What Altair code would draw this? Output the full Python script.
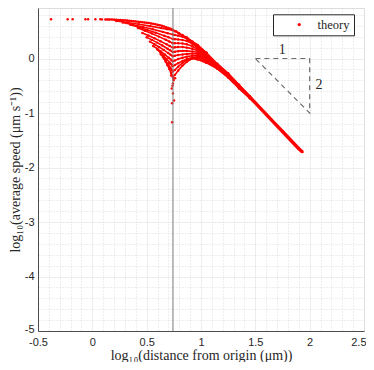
import altair as alt
import pandas as pd

RED = "#ff0000"
DARK = "#262626"

# ---------------- data ----------------
PLAT_X = [-0.38, -0.227, -0.181, -0.064, -0.039, 0.028, 0.073, 0.089, 0.12, 0.135, 0.148]
PLAT_Y = [0.72, 0.72, 0.72, 0.72, 0.72, 0.719, 0.719, 0.718, 0.717, 0.717, 0.716]

ENV_X = [0.16, 0.18, 0.20, 0.22, 0.24, 0.26, 0.28, 0.30, 0.32, 0.34,
         0.36, 0.38, 0.40, 0.42, 0.44, 0.46, 0.48, 0.50, 0.52, 0.54,
         0.56, 0.58, 0.60, 0.62, 0.64, 0.66, 0.68, 0.70, 0.72, 0.74,
         0.77, 0.80, 0.83, 0.86, 0.89, 0.92, 0.95, 0.98, 1.01, 1.05]
ENV_Y = [0.716, 0.715, 0.713, 0.711, 0.709, 0.706, 0.703, 0.70, 0.696, 0.692,
         0.688, 0.684, 0.68, 0.676, 0.672, 0.667, 0.662, 0.657, 0.651, 0.644,
         0.637, 0.629, 0.62, 0.61, 0.60, 0.588, 0.575, 0.56, 0.545, 0.53,
         0.50, 0.46, 0.42, 0.375, 0.335, 0.295, 0.255, 0.21, 0.16, 0.105]

LEFT_X = [
    [0.22, 0.324, 0.428, 0.532, 0.636, 0.688, 0.74],
    [0.28, 0.372, 0.464, 0.556, 0.648, 0.694, 0.74],
    [0.35, 0.428, 0.506, 0.584, 0.662, 0.701, 0.74],
    [0.42, 0.484, 0.548, 0.612, 0.676, 0.708, 0.74],
    [0.46, 0.516, 0.572, 0.628, 0.684, 0.712, 0.74],
    [0.50, 0.548, 0.596, 0.644, 0.692, 0.716, 0.74],
    [0.53, 0.572, 0.614, 0.656, 0.698, 0.719, 0.74],
    [0.56, 0.596, 0.632, 0.668, 0.704, 0.722, 0.74],
    [0.60, 0.628, 0.656, 0.684, 0.712, 0.726, 0.74],
    [0.63, 0.652, 0.674, 0.696, 0.718, 0.729, 0.74],
    [0.66, 0.676, 0.692, 0.708, 0.724, 0.732, 0.74],
]
LEFT_Y = [
    [0.69, 0.66, 0.628, 0.594, 0.558, 0.539, 0.52],
    [0.66, 0.621, 0.58, 0.536, 0.489, 0.465, 0.44],
    [0.62, 0.574, 0.525, 0.473, 0.418, 0.389, 0.36],
    [0.56, 0.511, 0.458, 0.402, 0.343, 0.312, 0.28],
    [0.47, 0.422, 0.372, 0.318, 0.26, 0.23, 0.20],
    [0.39, 0.342, 0.292, 0.238, 0.18, 0.15, 0.12],
    [0.31, 0.262, 0.212, 0.158, 0.10, 0.07, 0.04],
    [0.23, 0.181, 0.128, 0.072, 0.013, -0.018, -0.05],
    [0.16, 0.107, 0.051, -0.009, -0.073, -0.106, -0.14],
    [0.08, 0.024, -0.036, -0.10, -0.168, -0.204, -0.24],
    [0.0, -0.06, -0.124, -0.192, -0.264, -0.302, -0.34],
]
RIGHT_X = [0.76, 0.79, 0.83, 0.87, 0.92, 0.97]
RIGHT_Y = [
    [0.50, 0.47, 0.43, 0.385, 0.315, 0.25],
    [0.43, 0.42, 0.40, 0.37, 0.30, 0.223],
    [0.355, 0.35, 0.34, 0.32, 0.27, 0.196],
    [0.28, 0.28, 0.275, 0.26, 0.225, 0.169],
    [0.205, 0.21, 0.21, 0.20, 0.18, 0.142],
    [0.125, 0.135, 0.14, 0.14, 0.13, 0.115],
    [0.05, 0.065, 0.075, 0.085, 0.09, 0.088],
    [-0.035, -0.01, 0.015, 0.035, 0.05, 0.061],
    [-0.12, -0.085, -0.045, -0.01, 0.02, 0.034],
    [-0.21, -0.15, -0.08, -0.03, 0.005, 0.007],
    [-0.30, -0.22, -0.13, -0.06, 0.0, -0.02],
]
BAND_X = [1.05, 1.15, 1.25, 1.35, 1.45]
BAND_Y = [
    [0.105, -0.095, -0.27, -0.48, -0.69],
    [0.087, -0.105, -0.278, -0.487, -0.694],
    [0.068, -0.114, -0.286, -0.494, -0.698],
    [0.05, -0.124, -0.294, -0.501, -0.702],
    [0.031, -0.133, -0.302, -0.508, -0.706],
    [0.013, -0.143, -0.31, -0.515, -0.71],
    [-0.006, -0.152, -0.318, -0.522, -0.714],
    [-0.025, -0.162, -0.326, -0.529, -0.718],
    [-0.043, -0.171, -0.334, -0.536, -0.722],
    [-0.062, -0.181, -0.342, -0.543, -0.726],
    [-0.08, -0.19, -0.35, -0.55, -0.73],
]
TAIL_X = [1.45, 1.5, 1.55, 1.6, 1.65, 1.7, 1.75, 1.8, 1.85, 1.9, 1.934]
TAIL_Y = [-0.71, -0.815, -0.92, -1.025, -1.13, -1.235, -1.34, -1.445, -1.55, -1.655, -1.716]

SPARSE_X = [0.706, 0.725, 0.746, 0.742, 0.731, 0.742, 0.752, 0.734, 0.734, 0.748, 0.762, 0.738]
SPARSE_Y = [-0.09, -0.31, -0.37, -0.46, -0.55, -0.64, -0.77, -0.82, -1.17, -0.40, -0.36, -0.50]

VLINE_X = [0.742]
TRI_X = [1.5, 2.0, 2.0, 1.5]
TRI_Y = [0.0, 0.0, -1.0, 0.0]
TRI_LABELS = ["1", "2"]
TRI_LABEL_X = [1.747, 2.085]
TRI_LABEL_Y = [0.156, -0.49]

X_MAJOR = [-0.5, 0, 0.5, 1, 1.5, 2, 2.5]
X_MINOR = [-0.4, -0.3, -0.2, -0.1, 0.1, 0.2, 0.3, 0.4, 0.6, 0.7, 0.8, 0.9,
           1.1, 1.2, 1.3, 1.4, 1.6, 1.7, 1.8, 1.9, 2.1, 2.2, 2.3, 2.4]
Y_MAJOR = [-5, -4, -3, -2, -1, 0]
Y_MINOR = [-4.8, -4.6, -4.4, -4.2, -3.8, -3.6, -3.4, -3.2, -2.8, -2.6, -2.4, -2.2,
           -1.8, -1.6, -1.4, -1.2, -0.8, -0.6, -0.4, -0.2, 0.2, 0.4, 0.6, 0.8]

# ---------------- tables ----------------
line_rows = []
for i, (x, y) in enumerate(zip(ENV_X, ENV_Y)):
    line_rows.append({"x": x, "y": y, "ray": "env", "idx": i})
for r in range(len(LEFT_X)):
    xs = LEFT_X[r] + RIGHT_X + BAND_X
    ys = LEFT_Y[r] + RIGHT_Y[r] + BAND_Y[r]
    for i, (x, y) in enumerate(zip(xs, ys)):
        line_rows.append({"x": x, "y": y, "ray": f"r{r}", "idx": i})
lines_df = pd.DataFrame(line_rows)
tail_df = pd.DataFrame({"x": TAIL_X, "y": TAIL_Y, "idx": list(range(len(TAIL_X)))})

pts = [(r["x"], r["y"]) for r in line_rows]
pts += list(zip(PLAT_X, PLAT_Y)) + list(zip(SPARSE_X, SPARSE_Y)) + list(zip(TAIL_X, TAIL_Y))
pts_df = pd.DataFrame({"x": [p[0] for p in pts], "y": [p[1] for p in pts], "series": "theory"})

vline_df = pd.DataFrame({"x": VLINE_X})
tri_df = pd.DataFrame({"x": TRI_X, "y": TRI_Y, "o": list(range(len(TRI_X)))})
lab_df = pd.DataFrame({"x": TRI_LABEL_X, "y": TRI_LABEL_Y, "t": TRI_LABELS})

# ---------------- scales & axes ----------------
xsc = alt.Scale(domain=[-0.5, 2.5], nice=False, zero=False)
ysc = alt.Scale(domain=[-5, 0.927], nice=False, zero=False)

MAJX = "abs(datum.value*2 - round(datum.value*2)) < 0.000001"
MAJY = "abs(datum.value - round(datum.value)) < 0.000001"
SERIF = "Liberation Serif"


def axis(values, major_test, title, **kw):
    return alt.Axis(
        values=values,
        title=title,
        grid=True,
        gridColor={"condition": {"test": major_test, "value": "#e3e3e3"}, "value": "#cfcfcf"},
        gridDash={"condition": {"test": major_test, "value": [1, 0]}, "value": [1, 2]},
        gridWidth=0.7,
        labelExpr=f"{major_test} ? '' + datum.value : ''",
        labelOverlap=False,
        labelFlush=False,
        labelFont="Liberation Sans",
        labelFontSize=11,
        labelColor=DARK,
        ticks=False,
        tickSize=0,
        domainColor=DARK,
        domainWidth=0.8,
        titleFont=SERIF,
        titleFontSize=14,
        titleFontWeight="normal",
        titleColor=DARK,
        **kw,
    )


x_axis = axis(
    X_MAJOR + X_MINOR, MAJX, "log₁₀(distance from origin (μm))",
    labelPadding=5, titlePadding=1,
    labelAlign={"condition": {"test": "datum.value > 2.45", "value": "right"}, "value": "center"},
    labelOffset={"condition": {"test": "datum.value > 2.45", "value": 2}, "value": 0},
)
y_axis = axis(
    Y_MAJOR + Y_MINOR, MAJY, "log₁₀(average speed (μm s⁻¹))", labelPadding=4, titlePadding=2,
    labelOffset={"condition": {"test": "datum.value < -4.5", "value": -2}, "value": 0},
)

X = alt.X("x:Q", scale=xsc, axis=x_axis)
Y = alt.Y("y:Q", scale=ysc, axis=y_axis)

lines = alt.Chart(lines_df).mark_line(color=RED, strokeWidth=1.6, clip=True).encode(
    x=X, y=Y, detail="ray:N", order="idx:Q",
)

tail = alt.Chart(tail_df).mark_line(color=RED, strokeWidth=3.4, clip=True).encode(
    x=X, y=Y, order="idx:Q",
)

points = alt.Chart(pts_df).mark_circle(size=6, opacity=1, clip=True).encode(
    x=X,
    y=Y,
    color=alt.Color(
        "series:N",
        scale=alt.Scale(domain=["theory"], range=[RED]),
        legend=alt.Legend(
            title=None,
            orient="none",
            legendX=235,
            legendY=6.3,
            padding=4,
            strokeColor=DARK,
            fillColor="white",
            symbolType="circle",
            symbolSize=10,
            symbolOffset=16,
            labelOffset=12,
            labelFont=SERIF,
            labelFontSize=12.5,
            labelColor=DARK,
        ),
    ),
)

tri = alt.Chart(tri_df).mark_line(color="#6e6e6e", strokeWidth=1.2, strokeDash=[5, 4]).encode(
    x=X, y=Y, order="o:Q",
)

labels = alt.Chart(lab_df).mark_text(font=SERIF, fontSize=14, fill=DARK, color=DARK).encode(
    x=X, y=Y, text="t:N",
)

vline = alt.Chart(vline_df).mark_rule(color="#7a7a7a", strokeWidth=1).encode(x=X)

chart = (
    alt.layer(lines, tail, points, tri, labels, vline)
    .properties(
        width=326,
        height=323,
        autosize=alt.AutoSizeParams(type="none"),
        padding={"left": 30, "top": 0, "right": 2, "bottom": 31},
    )
    .configure_view(stroke="#dadada", strokeWidth=0.8)
    .configure(background="white")
)

chart.save("out.html", embed_options={"renderer": "svg", "actions": False})
